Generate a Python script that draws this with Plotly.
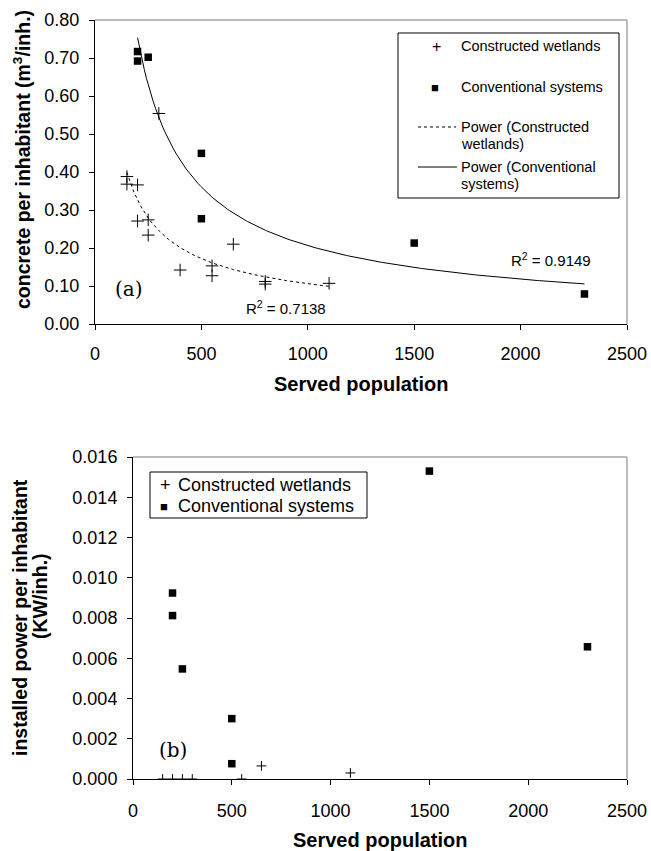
import numpy as np
import plotly.graph_objects as go

# ---------------- data ----------------
# (a) concrete per inhabitant
cw_pop_a = [150, 150, 200, 200, 250, 250, 300, 400, 550, 550, 650, 800, 800, 1100]
cw_conc_a = [0.388, 0.368, 0.366, 0.271, 0.274, 0.234, 0.554, 0.142, 0.153, 0.127, 0.210, 0.112, 0.105, 0.107]
cs_pop_a = [200, 200, 250, 500, 500, 1500, 2300]
cs_conc_a = [0.717, 0.692, 0.702, 0.449, 0.277, 0.213, 0.079]
r2_cw_text = "R<sup>2</sup> = 0.7138"
r2_cs_text = "R<sup>2</sup> = 0.9149"

# (b) installed power per inhabitant
cw_pop_b = [150, 200, 250, 300, 550, 650, 1100]
cw_pow_b = [0.0, 0.0, 0.0, 0.0, 0.0, 0.00065, 0.0003]
cs_pop_b = [200, 200, 250, 500, 500, 1500, 2300]
cs_pow_b = [0.00924, 0.00812, 0.00547, 0.0030, 0.00076, 0.0153, 0.00657]

x_ticks = [0, 500, 1000, 1500, 2000, 2500]
y_ticks_a = [0.0, 0.1, 0.2, 0.3, 0.4, 0.5, 0.6, 0.7, 0.8]
y_ticks_b = [0.0, 0.002, 0.004, 0.006, 0.008, 0.010, 0.012, 0.014, 0.016]

# ---------------- helpers ----------------
W, H = 651, 851


def px_x(p):
    return p / W


def px_y(p):
    return 1 - p / H


def power_fit(x, y, n=200):
    lx, ly = np.log(np.array(x, float)), np.log(np.array(y, float))
    b, la = np.polyfit(lx, ly, 1)
    xs = np.linspace(min(x), max(x), n)
    return xs, np.exp(la) * xs ** b


FONT = "Liberation Sans, Arial, sans-serif"
SERIF = "DejaVu Serif, Liberation Serif, serif"
GREY = "#a6a6a6"

fig = go.Figure()

# ----- (a) -----
fx, fy = power_fit(cw_pop_a, cw_conc_a)
fig.add_trace(go.Scatter(x=fx, y=fy, mode="lines", name="Power (Constructed wetlands)",
                         line=dict(color="black", width=1, dash="dot"), xaxis="x", yaxis="y",
                         showlegend=False))
fx, fy = power_fit(cs_pop_a, cs_conc_a)
fig.add_trace(go.Scatter(x=fx, y=fy, mode="lines", name="Power (Conventional systems)",
                         line=dict(color="black", width=1), xaxis="x", yaxis="y",
                         showlegend=False))
fig.add_trace(go.Scatter(x=cw_pop_a, y=cw_conc_a, mode="markers", name="Constructed wetlands",
                         marker=dict(symbol="cross-thin", size=9, line=dict(color="black", width=1)),
                         xaxis="x", yaxis="y", showlegend=False))
fig.add_trace(go.Scatter(x=cs_pop_a, y=cs_conc_a, mode="markers", name="Conventional systems",
                         marker=dict(symbol="square", size=7.5, color="black"),
                         xaxis="x", yaxis="y", showlegend=False))

# ----- (b) -----
fig.add_trace(go.Scatter(x=cw_pop_b, y=cw_pow_b, mode="markers", name="Constructed wetlands",
                         marker=dict(symbol="cross-thin", size=7, line=dict(color="black", width=1)),
                         xaxis="x2", yaxis="y2", showlegend=False))
fig.add_trace(go.Scatter(x=cs_pop_b, y=cs_pow_b, mode="markers", name="Conventional systems",
                         marker=dict(symbol="square", size=7.5, color="black"),
                         xaxis="x2", yaxis="y2", showlegend=False))

axis_common = dict(showline=True, linecolor="black", linewidth=1, ticks="outside",
                   ticklen=5, tickcolor="black", showgrid=False, zeroline=False,
                   automargin=False,
                   tickfont=dict(family=FONT, size=18, color="black"))

fig.update_layout(
    width=W, height=H, margin=dict(l=0, r=0, t=0, b=0, pad=0), autosize=False,
    paper_bgcolor="white", plot_bgcolor="white", showlegend=False,
    xaxis=dict(domain=[px_x(95), px_x(627)], range=[0, 2500], tickvals=x_ticks,
               anchor="y", ticklabelstandoff=8, **axis_common),
    yaxis=dict(domain=[px_y(324), px_y(20)], range=[0, 0.8], tickvals=y_ticks_a,
               tickformat=".2f", anchor="x", ticklabelstandoff=6, **axis_common),
    xaxis2=dict(domain=[px_x(133), px_x(627)], range=[0, 2500], tickvals=x_ticks,
                anchor="y2", ticklabelstandoff=10, **axis_common),
    yaxis2=dict(domain=[px_y(779), px_y(457)], range=[0, 0.016], tickvals=y_ticks_b,
                tickformat=".3f", anchor="x2", ticklabelstandoff=6, **axis_common),
)

shapes = []
# grey top/right frame lines
for xr, yr in (("x domain", "y domain"), ("x2 domain", "y2 domain")):
    shapes.append(dict(type="line", xref=xr, yref=yr, x0=0, x1=1, y0=1, y1=1,
                       line=dict(color=GREY, width=1.5)))
    shapes.append(dict(type="line", xref=xr, yref=yr, x0=1, x1=1, y0=0, y1=1,
                       line=dict(color=GREY, width=1.5)))

# legend boxes
shapes.append(dict(type="rect", xref="paper", yref="paper", x0=px_x(398), x1=px_x(619),
                   y0=px_y(198), y1=px_y(33), line=dict(color="black", width=1)))
shapes.append(dict(type="rect", xref="paper", yref="paper", x0=px_x(150), x1=px_x(367),
                   y0=px_y(518), y1=px_y(472), line=dict(color="black", width=1)))
# legend line samples (top)
shapes.append(dict(type="line", xref="paper", yref="paper", x0=px_x(418), x1=px_x(456),
                   y0=px_y(127), y1=px_y(127), line=dict(color="black", width=1, dash="dot")))
shapes.append(dict(type="line", xref="paper", yref="paper", x0=px_x(418), x1=px_x(457),
                   y0=px_y(167), y1=px_y(167), line=dict(color="black", width=1)))
fig.update_layout(shapes=shapes)

ann = []


def text(t, x, y, size, xanchor="center", yanchor="middle", family=FONT, bold=False, angle=0):
    if bold:
        t = "<b>" + t + "</b>"
    ann.append(dict(text=t, x=px_x(x), y=px_y(y), xref="paper", yref="paper",
                    xanchor=xanchor, yanchor=yanchor, showarrow=False, textangle=angle,
                    font=dict(family=family, size=size, color="black")))


# top legend
text("+", 436, 46, 16)
text("Constructed wetlands", 459, 46, 14.5, xanchor="left")
text("\u25A0", 435, 87, 13)
text("Conventional systems", 459, 87, 14.5, xanchor="left")
text("Power (Constructed", 459, 127, 14.5, xanchor="left")
text("wetlands)", 459, 144, 14.5, xanchor="left")
text("Power (Conventional", 459, 167, 14.5, xanchor="left")
text("systems)", 459, 184, 14.5, xanchor="left")

# bottom legend
text("+", 165, 485, 18)
text("Constructed wetlands", 176, 485, 18, xanchor="left")
text("\u25A0", 164, 506, 13)
text("Conventional systems", 176, 506, 18, xanchor="left")

# R2 labels and panel tags
text(r2_cw_text, 286, 307, 15)
text(r2_cs_text, 551, 259, 15)
text("(a)", 129, 289, 20, family=SERIF)
text("(b)", 173, 750, 20, family=SERIF)

# axis titles
text("Served population", 361, 384, 20, bold=True)
text("Served population", 380, 840, 20, bold=True)
text("concrete per inhabitant (m<sup>3</sup>/inh.)", 22, 160, 19.5, bold=True, angle=-90)
text("installed power per inhabitant", 20, 618, 19.5, bold=True, angle=-90)
text("(KW/inh.)", 40, 596, 19.5, bold=True, angle=-90)

fig.update_layout(annotations=ann)

fig.write_html("out.html", config={"responsive": False, "displayModeBar": False},
               post_script="document.body.style.margin='0';document.body.style.overflow='hidden';")
